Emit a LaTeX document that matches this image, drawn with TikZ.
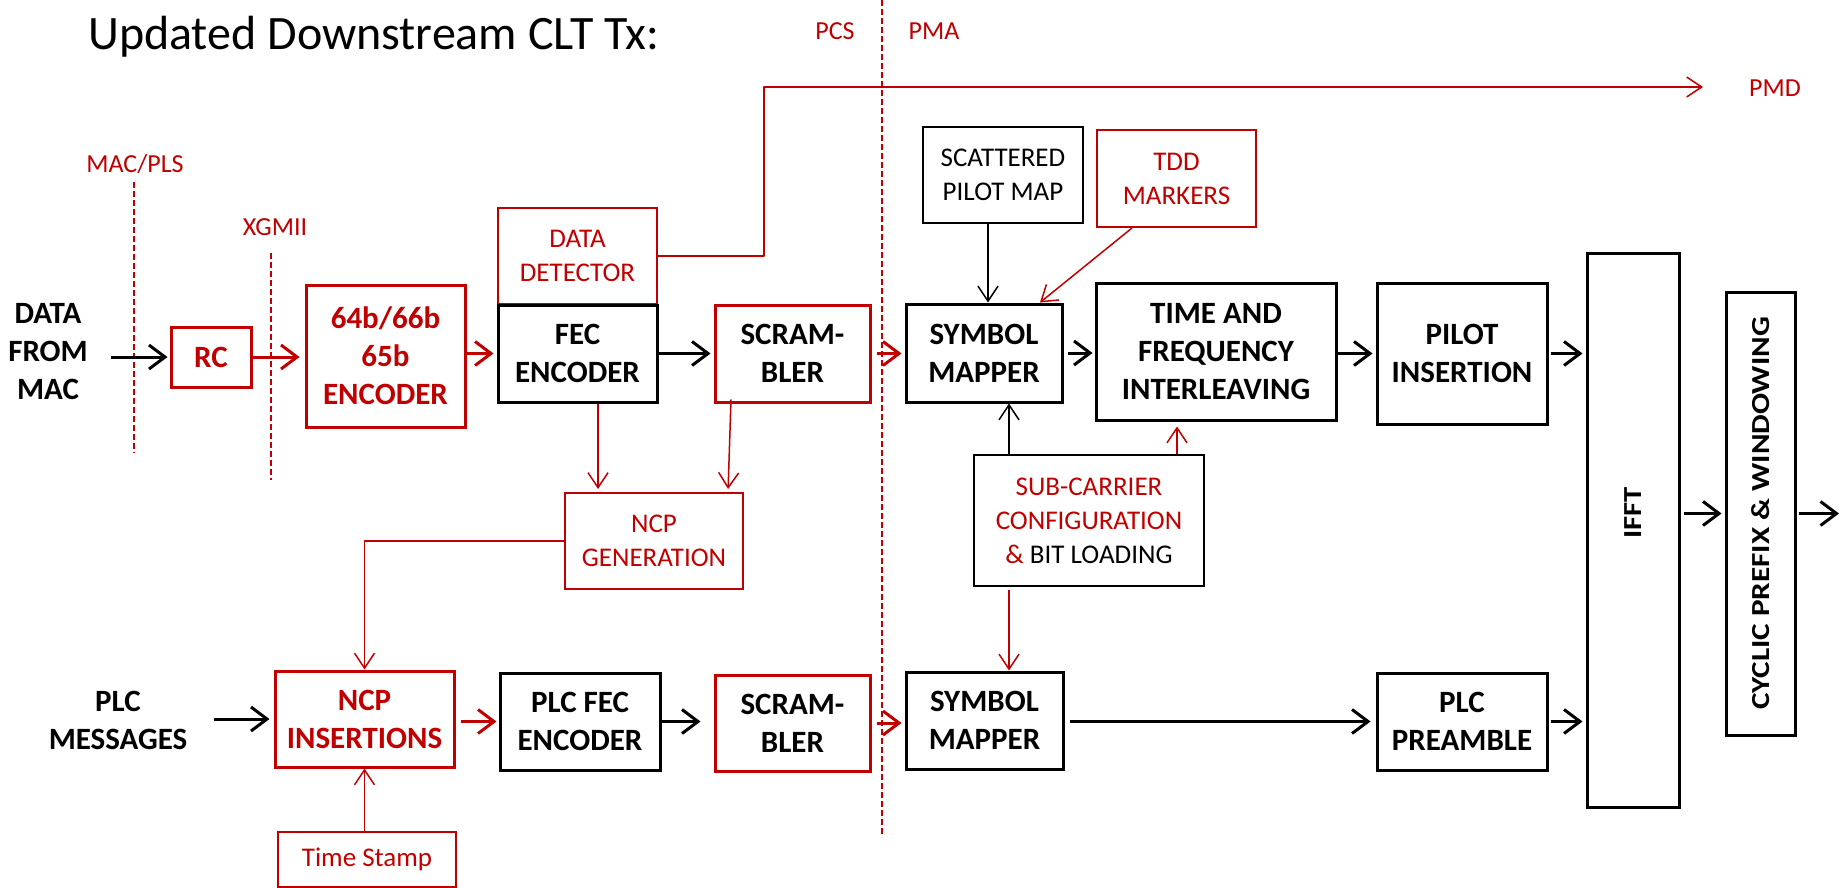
\documentclass[tikz,border=0pt]{standalone}
\usepackage{fontspec}
\setmainfont{Carlito}
\usetikzlibrary{arrows.meta,calc}
\definecolor{dred}{HTML}{C00000}
\newcommand\boldtxt{\fontsize{31}{38}\selectfont\bfseries}
\newcommand\thintxt{\fontsize{27}{34}\selectfont}
\newcommand\redlbl{\fontsize{26}{30}\selectfont}
\begin{document}
\begin{tikzpicture}[x=1pt,y=-1pt,
  thickbox/.style={draw, line width=3pt, inner sep=0pt, align=center, font=\boldtxt},
  thinbox/.style={draw, line width=2pt, inner sep=0pt, align=center, font=\thintxt},
  redthick/.style={thickbox, draw=dred, text=dred},
  redthin/.style={thinbox, draw=dred, text=dred},
  thickarr/.style={line width=3pt, line join=round, -{Straight Barb[length=16pt,width=24pt]}},
  thinarr/.style={line width=1.5pt, line join=round, -{Straight Barb[length=15pt,width=20pt]}},
  divline/.style={draw=dred, line width=1.2pt, dash pattern=on 6pt off 3pt},
  redtext/.style={text=dred, font=\redlbl, inner sep=0pt, anchor=base},
  lbl/.style={font=\boldtxt, align=center, inner sep=0pt}
]
\useasboundingbox (0,0) rectangle (1847,888);

% title and labels
\node[anchor=base west, inner sep=0pt, font=\fontsize{48}{56}\selectfont] (title) at (88,50) {Updated Downstream CLT Tx:};
\node[redtext] (pcs) at (835,40) {PCS};
\node[redtext] (pma) at (934,40) {PMA};
\node[redtext] (pmd) at (1775,97) {PMD};
\node[redtext] (macpls) at (135,172) {MAC/PLS};
\node[redtext] (xgmii) at (275,235) {XGMII};

% dividing lines
\coordinate (d1a) at (134,182); \coordinate (d1b) at (134,453);
\coordinate (d2a) at (271,253); \coordinate (d2b) at (271,480);
\coordinate (d3a) at (882,0);   \coordinate (d3b) at (882,837);
\draw[divline] (d1a) -- (d1b);
\draw[divline] (d2a) -- (d2b);
\draw[divline] (d3a) -- (d3b);

\node[lbl] (datalbl) at (48,352) {DATA\\FROM\\MAC};
\node[lbl] (plclbl) at (118,720) {PLC\\MESSAGES};

% upper row
\node[redthick, minimum width=80pt, minimum height=60pt] (RC) at (211,357) {RC};
\node[redthick, minimum width=159pt, minimum height=142pt] (ENC) at (385.5,356) {64b/66b\\65b\\ENCODER};
\node[redthin, minimum width=159pt, minimum height=96pt] (DD) at (577.5,256) {DATA\\DETECTOR};
\node[thickbox, minimum width=159pt, minimum height=97pt] (FEC) at (577.5,353.5) {FEC\\ENCODER};
\node[redthick, text=black, minimum width=155pt, minimum height=97pt] (SCR1) at (792.5,353.5) {SCRAM-\\BLER};
\node[thickbox, minimum width=156pt, minimum height=98pt] (SM1) at (984,353) {SYMBOL\\MAPPER};
\node[thinbox, minimum width=160pt, minimum height=96pt] (SPM) at (1003,175) {SCATTERED\\PILOT MAP};
\node[redthin, minimum width=159pt, minimum height=97pt] (TDD) at (1176.5,178.5) {TDD\\MARKERS};
\node[thickbox, minimum width=240pt, minimum height=137pt] (TF) at (1216,351.5) {TIME AND\\FREQUENCY\\INTERLEAVING};
\node[thickbox, minimum width=170pt, minimum height=141pt] (PI) at (1462,353.5) {PILOT\\INSERTION};
\node[thickbox, minimum width=92pt, minimum height=554pt] (IFFT) at (1633,530) {};
\node[font=\fontsize{26}{30}\selectfont\bfseries, inner sep=0pt] (iffttxt) at (1633,513) {\rotatebox{90}{\scalebox{1.18}[1]{IFFT}}};
\node[thickbox, font=\fontsize{26}{30}\selectfont\bfseries, minimum width=69pt, minimum height=443pt] (CP) at (1760.5,513.5) {\rotatebox{90}{\scalebox{1.2}[1]{CYCLIC PREFIX \& WINDOWING}}};

% middle
\node[redthin, minimum width=178pt, minimum height=96pt] (NCPG) at (654,541) {NCP\\GENERATION};
\node[thinbox, minimum width=230pt, minimum height=131pt] (SUB) at (1089,520.5) {{\color{dred}SUB-CARRIER}\\{\color{dred}CONFIGURATION}\\{\color{dred}\&} BIT LOADING};

% lower row
\node[redthick, minimum width=179pt, minimum height=96pt] (NCPI) at (364.5,719) {NCP\\INSERTIONS};
\node[thickbox, minimum width=160pt, minimum height=97pt] (PLCFEC) at (580,721.5) {PLC FEC\\ENCODER};
\node[redthick, text=black, minimum width=155pt, minimum height=96pt] (SCR2) at (792.5,723) {SCRAM-\\BLER};
\node[thickbox, minimum width=157pt, minimum height=97pt] (SM2) at (984.5,720.5) {SYMBOL\\MAPPER};
\node[thickbox, minimum width=170pt, minimum height=97pt] (PRE) at (1462,721.5) {PLC\\PREAMBLE};
\node[redthin, minimum width=178pt, minimum height=55pt] (TS) at (367,859.5) {Time Stamp};

% thick connectors, upper row
\draw[thickarr, shorten <=23pt, shorten >=2pt] (datalbl.east |- RC.west) -- (RC.west);
\draw[thickarr, dred, shorten >=5pt] (RC.east) -- (RC.east -| ENC.west);
\draw[thickarr, dred, shorten >=3pt] (ENC.east |- FEC.west) -- (FEC.west);
\draw[thickarr, shorten >=3pt] (FEC.east) -- (SCR1.west);
\draw[thickarr, dred, shorten <=5pt, shorten >=3pt] (SCR1.east) -- (SCR1.east -| SM1.west);
\draw[thickarr, shorten <=4pt, shorten >=2pt] (SM1.east) -- (SM1.east -| TF.west);
\draw[thickarr, shorten >=3pt] (TF.east |- PI.west) -- (PI.west);
\draw[thickarr, shorten <=2pt, shorten >=3pt] (PI.east) -- (PI.east -| IFFT.west);
\draw[thickarr, shorten <=3pt, shorten >=3pt] (CP.west -| IFFT.east) -- (CP.west);
\coordinate (out) at (1839,513.5);
\draw[thickarr, shorten <=2pt] (CP.east) -- (out);

% thick connectors, lower row
\draw[thickarr, shorten <=27pt, shorten >=4pt] (plclbl.east |- NCPI.west) -- (NCPI.west);
\draw[thickarr, dred, shorten <=5pt, shorten >=2pt] (NCPI.east |- PLCFEC.west) -- (PLCFEC.west);
\draw[thickarr, shorten >=13pt] (PLCFEC.east) -- (PLCFEC.east -| SCR2.west);
\draw[thickarr, dred, shorten <=5pt, shorten >=3pt] (SCR2.east) -- (SCR2.east -| SM2.west);
\draw[thickarr, shorten <=5pt, shorten >=5pt] (SM2.east |- PRE.west) -- (PRE.west);
\draw[thickarr, shorten <=2pt, shorten >=3pt] (PRE.east) -- (PRE.east -| IFFT.west);

% thin connectors
\coordinate (pmdbend) at (764,87);
\coordinate (pmdend) at (1703,87);
\draw[thinarr, dred] (DD.east) -| (pmdbend) -- (pmdend);
\draw[thinarr, dred, shorten >=3pt] ([xshift=20.5pt]FEC.south) -- ([xshift=20.5pt]FEC.south |- NCPG.north);
\draw[thinarr, dred, shorten >=3pt] ([xshift=-61.5pt,yshift=4pt]SCR1.south) -- ([xshift=74pt]NCPG.north);
\draw[thinarr, dred] (NCPG.west) -| (NCPI.north);
\draw[thinarr, dred] (NCPI.south |- TS.north) -- (NCPI.south);
\draw[thinarr] ([xshift=-15pt]SPM.south) -- ([xshift=-15pt]SPM.south |- SM1.north);
\draw[thinarr, dred] ([xshift=-44.5pt]TDD.south) -- ([xshift=56pt]SM1.north);
\draw[thinarr] ([xshift=-80pt]SUB.north) -- ([xshift=-80pt]SUB.north |- SM1.south);
\draw[thinarr, dred, shorten >=5pt] ([xshift=88pt]SUB.north) -- ([xshift=88pt]SUB.north |- TF.south);
\draw[thinarr, dred, shorten <=3pt] ([xshift=-80pt]SUB.south) -- ([xshift=-80pt]SUB.south |- SM2.north);
\end{tikzpicture}
\end{document}
